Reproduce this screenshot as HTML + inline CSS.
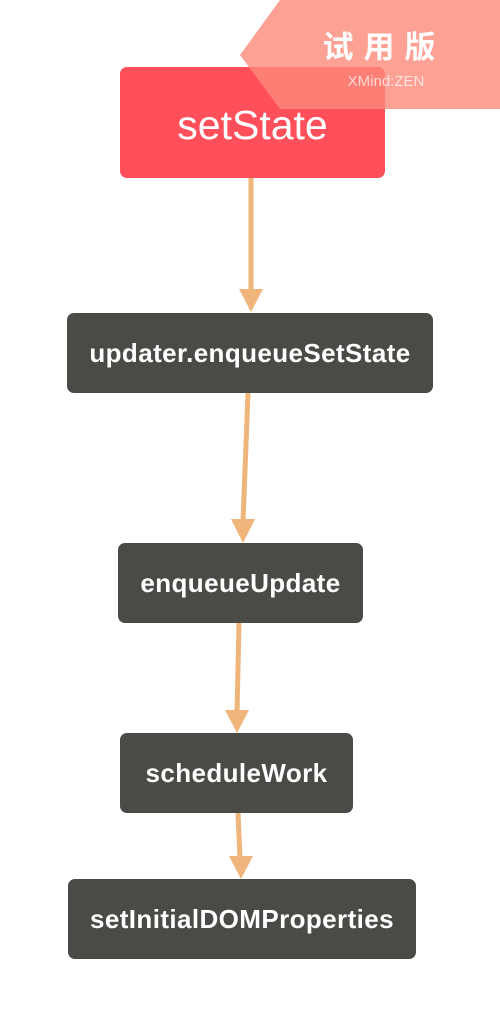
<!DOCTYPE html>
<html><head><meta charset="utf-8"><style>
body{margin:0;width:500px;height:1026px;background:#fff;position:relative;overflow:hidden;font-family:"Liberation Sans","Noto Sans CJK SC",sans-serif}
.n{position:absolute;border-radius:7px;background:#4a4a46;color:#fff;display:flex;align-items:center;justify-content:center;font-weight:bold;font-size:26px;letter-spacing:0.4px}
</style></head><body>
<svg width="500" height="1026" style="position:absolute;left:0;top:0">
<g stroke="#f0b57a" stroke-width="5" fill="none">
<line x1="251" y1="178" x2="251" y2="292"/>
<line x1="248" y1="393" x2="243" y2="522"/>
<line x1="239" y1="623" x2="237" y2="713"/>
<line x1="238" y1="813" x2="240" y2="859"/>
</g>
<g fill="#f0b57a">
<polygon points="239,289 263,289 251,312"/>
<polygon points="231,519 255,519 243,543"/>
<polygon points="225,710 249,710 237,733"/>
<polygon points="229,856 253,856 241,879"/>
</g>
</svg>
<div class="n" style="left:120px;top:67px;width:265px;height:111px;background:#ff4f5a;font-size:41px;font-weight:normal;letter-spacing:0;padding-top:5px;box-sizing:border-box">setState</div>
<div class="n" style="left:67px;top:313px;width:366px;height:80px">updater.enqueueSetState</div>
<div class="n" style="left:118px;top:543px;width:245px;height:80px">enqueueUpdate</div>
<div class="n" style="left:120px;top:733px;width:233px;height:80px">scheduleWork</div>
<div class="n" style="left:68px;top:879px;width:348px;height:80px">setInitialDOMProperties</div>
<svg width="500" height="120" style="position:absolute;left:0;top:0">
<polygon points="280,0 500,0 500,109 280,109 240,55" fill="#fc8a7a" opacity="0.8"/>
<text x="384" y="58" fill="#fff" font-size="31" font-weight="bold" text-anchor="middle" font-family="Noto Sans CJK SC,sans-serif" letter-spacing="10">试用版</text>
<text x="386" y="86" fill="#fff" fill-opacity="0.7" font-size="15" text-anchor="middle" font-family="Liberation Sans,sans-serif">XMind:ZEN</text>
</svg>
</body></html>
